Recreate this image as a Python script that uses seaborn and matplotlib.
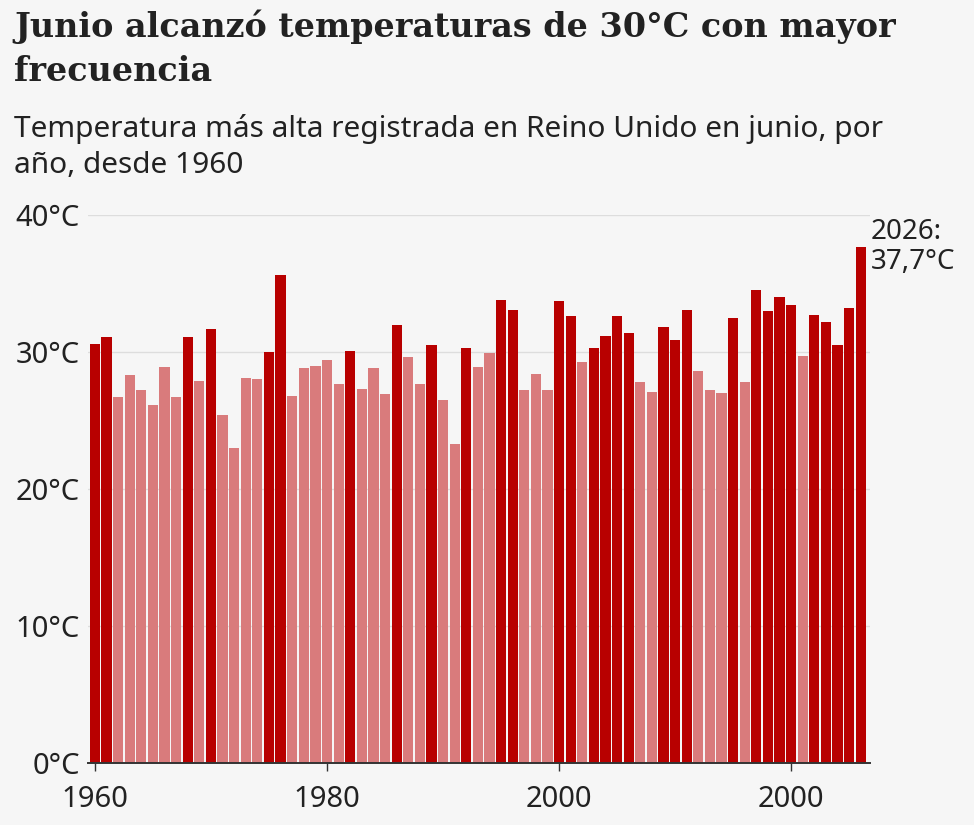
import matplotlib
matplotlib.use("Agg")
import matplotlib.pyplot as plt
import seaborn as sns
import pandas as pd
import numpy as np

years = list(range(1960, 2027))
temps = [
    30.6, 31.1, 26.7, 28.3, 27.2, 26.1, 28.9, 26.7, 31.1, 27.9,
    31.7, 25.4, 23.0, 28.1, 28.0, 30.0, 35.6, 26.8, 28.8, 29.0,
    29.4, 27.7, 30.1, 27.3, 28.8, 26.9, 32.0, 29.6, 27.7, 30.5,
    26.5, 23.3, 30.3, 28.9, 29.9, 33.8, 33.1, 27.2, 28.4, 27.2,
    33.7, 32.6, 29.3, 30.3, 31.2, 32.6, 31.4, 27.8, 27.1, 31.8,
    30.9, 33.1, 28.6, 27.2, 27.0, 32.5, 27.8, 34.5, 33.0, 34.0,
    33.4, 29.7, 32.7, 32.2, 30.5, 33.2, 37.7,
]
hot = [t >= 30 for t in temps]
tick_years = [1960, 1980, 2000, 2020]
tick_labels = ["1960", "1980", "2000", "2000"]
y_ticks = [0, 10, 20, 30, 40]
y_labels = ["0°C", "10°C", "20°C", "30°C", "40°C"]

title = "Junio alcanzó temperaturas de 30°C con mayor\nfrecuencia"
subtitle = "Temperatura más alta registrada en Reino Unido en junio, por\naño, desde 1960"
annotation = "2026:\n37,7°C"

DARK = "#B80000"
LIGHT = "#D97B7C"
BG = "#F6F6F6"
TXT = "#222222"

df = pd.DataFrame({"year": years, "temp": temps,
                   "grp": ["hot" if h else "norm" for h in hot]})

sns.set_theme(style="white")
plt.rcParams["font.family"] = ["Noto Sans", "DejaVu Sans"]

fig = plt.figure(figsize=(9.74, 8.25), dpi=100, facecolor=BG)
ax = fig.add_axes([88 / 974, 1 - 763 / 825, 782 / 974, (763 - 215) / 825])
ax.set_facecolor(BG)

sns.barplot(data=df, x="year", y="temp", hue="grp", native_scale=True,
            palette={"hot": DARK, "norm": LIGHT}, saturation=1, dodge=False,
            width=0.88, linewidth=0, legend=False, ax=ax)

ax.set_xlim(1959.4, 2026.8)
ax.set_ylim(0, 40)
ax.set_yticks(y_ticks)
ax.set_yticklabels(y_labels)
ax.set_xticks(tick_years)
ax.set_xticklabels(tick_labels)
ax.set_xlabel("")
ax.set_ylabel("")

ax.grid(axis="y", color="#DDDDDD", linewidth=1)
ax.grid(axis="x", visible=False)
ax.set_axisbelow(True)
for s in ["top", "right", "left"]:
    ax.spines[s].set_visible(False)
ax.spines["bottom"].set_color("#333333")
ax.spines["bottom"].set_linewidth(1.4)
ax.spines["bottom"].set_zorder(5)

ax.tick_params(axis="y", length=0, pad=6, labelsize=21, labelcolor=TXT)
ax.tick_params(axis="x", length=6, width=1, color="#333333", pad=10,
               labelsize=21, labelcolor=TXT, bottom=True)

ax.annotate(annotation, xy=(2026, 37.7), xycoords="data",
            xytext=(871 / 974, 1 - 218 / 825), textcoords="figure fraction",
            ha="left", va="top", fontsize=20, color=TXT,
            linespacing=1.1, annotation_clip=False)

fig.text(14 / 974, 1 - 10 / 825, title, ha="left", va="top",
         fontsize=24, fontweight="bold", color=TXT,
         family=["DejaVu Serif"], linespacing=1.4)
fig.text(14 / 974, 1 - 114 / 825, subtitle, ha="left", va="top",
         fontsize=21.5, color=TXT, linespacing=1.3)

fig.savefig("out.png", dpi=100, facecolor=BG)
